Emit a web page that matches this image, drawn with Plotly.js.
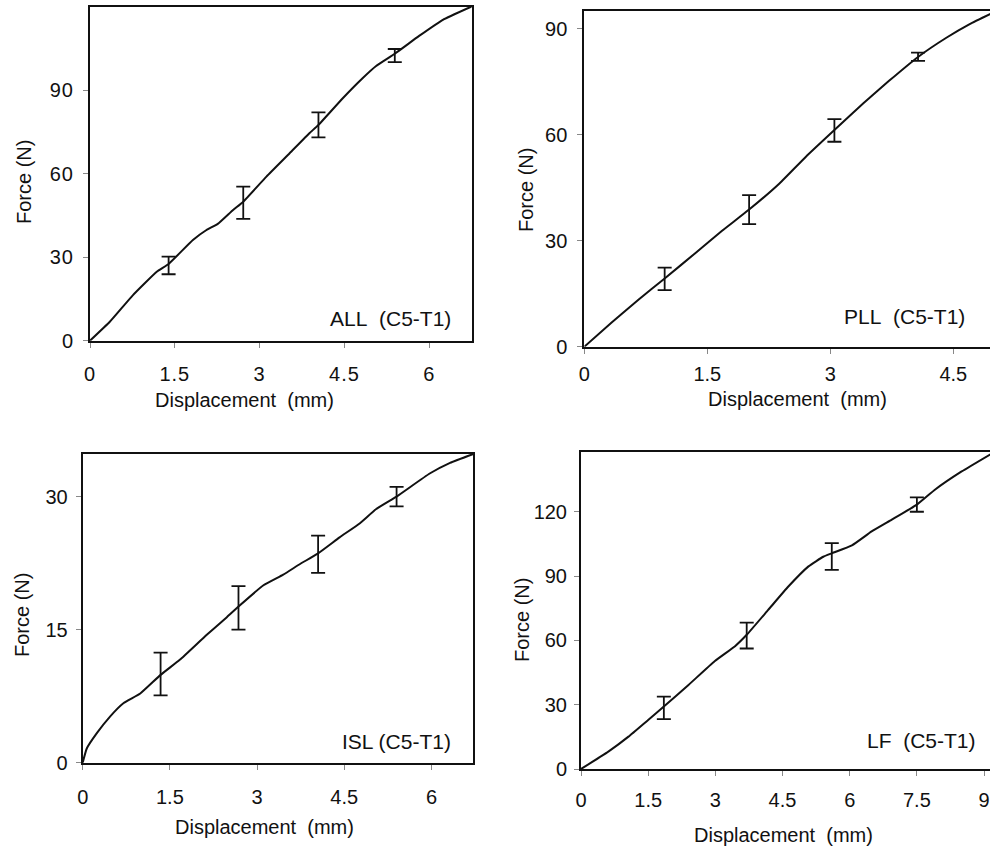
<!DOCTYPE html>
<html>
<head>
<meta charset="utf-8">
<script src="https://cdn.plot.ly/plotly-3.0.1.min.js"></script>
<style>
  html, body { margin: 0; padding: 0; overflow: hidden; background: #fff; }
  #chart { width: 1000px; height: 850px; }
  .xtick text, .ytick text { letter-spacing: 1px; }
</style>
</head>
<body>
<div id="chart"></div>
<script>
// ---- ALL (C5-T1) ----
const allX = [0, 0.35, 0.76, 1.18, 1.39, 1.82, 2.06, 2.26, 2.53, 2.71, 3.12, 3.53, 3.88, 4.04, 4.47, 4.82, 5.06, 5.39, 5.82, 6.24, 6.75];
const allY = [0, 6.8, 16.4, 24.8, 27.6, 36.2, 39.8, 42.0, 47.0, 50.0, 59.0, 67.4, 74.6, 77.6, 87.2, 94.4, 98.8, 103.2, 109.6, 115.4, 120.2];
const allErrX = [1.39, 2.71, 4.04, 5.39];
const allErrMid = [27.2, 50.0, 77.6, 102.8];
const allErrHigh = [30.2, 55.4, 82.1, 104.9];
const allErrLow = [23.9, 43.8, 73.1, 100.2];

// ---- PLL (C5-T1) ----
const pllX = [0, 0.33, 0.66, 0.98, 1.36, 1.68, 2.01, 2.38, 2.70, 3.05, 3.40, 3.72, 4.07, 4.42, 4.70, 5.00];
const pllY = [0, 6.8, 13.3, 19.3, 26.6, 32.8, 38.8, 46.2, 53.7, 61.3, 68.8, 75.3, 82.0, 87.5, 91.3, 94.7];
const pllErrX = [0.98, 2.01, 3.05, 4.07];
const pllErrMid = [19.3, 38.8, 61.3, 82.0];
const pllErrHigh = [22.4, 42.9, 64.4, 83.2];
const pllErrLow = [16.0, 34.7, 58.0, 80.9];

// ---- ISL (C5-T1) ----
const islX = [0, 0.07, 0.24, 0.47, 0.70, 0.99, 1.34, 1.67, 2.13, 2.48, 2.68, 3.11, 3.45, 3.74, 4.05, 4.42, 4.77, 5.05, 5.40, 5.97, 6.32, 6.72];
const islY = [0, 1.6, 3.3, 5.2, 6.7, 7.8, 9.9, 11.6, 14.4, 16.4, 17.6, 20.0, 21.2, 22.4, 23.6, 25.4, 27.0, 28.6, 30.0, 32.6, 33.8, 34.8];
const islErrX = [1.34, 2.68, 4.05, 5.40];
const islErrMid = [9.9, 17.6, 23.6, 30.0];
const islErrHigh = [12.4, 19.9, 25.6, 31.1];
const islErrLow = [7.6, 15.0, 21.4, 28.9];

// ---- LF (C5-T1) ----
const lfX = [0, 0.61, 1.06, 1.50, 1.85, 2.40, 2.99, 3.44, 3.70, 4.18, 4.63, 5.08, 5.41, 5.60, 6.05, 6.49, 6.94, 7.50, 7.91, 8.50, 9.20];
const lfY = [0, 8.1, 15.1, 22.9, 29.1, 39.2, 50.4, 57.3, 62.6, 74.2, 85.1, 94.5, 99.0, 100.6, 104.3, 110.8, 116.3, 123.3, 130.4, 138.8, 147.5];
const lfErrX = [1.85, 3.70, 5.60, 7.50];
const lfErrMid = [29.1, 62.6, 99.9, 123.3];
const lfErrHigh = [33.8, 68.3, 105.4, 126.7];
const lfErrLow = [23.3, 56.2, 92.9, 120.0];

// ---- ticks & labels ----
const allXTicks = [0, 1.5, 3, 4.5, 6];
const allXTickText = ["0", "1.5", "3", "4.5", "6"];
const allYTicks = [0, 30, 60, 90];
const allYTickText = ["0", "30", "60", "90"];
const pllXTicks = [0, 1.5, 3, 4.5];
const pllXTickText = ["0", "1.5", "3", "4.5"];
const pllYTicks = [0, 30, 60, 90];
const pllYTickText = ["0", "30", "60", "90"];
const islXTicks = [0, 1.5, 3, 4.5, 6];
const islXTickText = ["0", "1.5", "3", "4.5", "6"];
const islYTicks = [0, 15, 30];
const islYTickText = ["0", "15", "30"];
const lfXTicks = [0, 1.5, 3, 4.5, 6, 7.5, 9];
const lfXTickText = ["0", "1.5", "3", "4.5", "6", "7.5", "9"];
const lfYTicks = [0, 30, 60, 90, 120];
const lfYTickText = ["0", "30", "60", "90", "120"];

const panelLabels = ["ALL\u00a0 (C5-T1)", "PLL\u00a0 (C5-T1)", "ISL (C5-T1)", "LF\u00a0 (C5-T1)"];
const xTitle = "Displacement\u00a0 (mm)";
const yTitle = "Force (N)";

const W = 1000, H = 850;
const FONT = "'Liberation Sans', Arial, Helvetica, sans-serif";
const INK = "#111";

function px(x) { return x / W; }
function py(y) { return 1 - y / H; }

const panels = [
  { x: allX, y: allY, ex: allErrX, em: allErrMid, eh: allErrHigh, el: allErrLow,
    xt: allXTicks, xtt: allXTickText, yt: allYTicks, ytt: allYTickText,
    xr: [0, 6.75], yr: [0, 120], dom: [90, 471.7, 7, 340.7], xso: 9, yso: 5,
    label: { x: 453, y: 319 }, xtitle: { x: 244, y: 400 }, ytitle: { x: 24, y: 182 } },
  { x: pllX, y: pllY, ex: pllErrX, em: pllErrMid, eh: pllErrHigh, el: pllErrLow,
    xt: pllXTicks, xtt: pllXTickText, yt: pllYTicks, ytt: pllYTickText,
    xr: [0, 5.0], yr: [0, 95], dom: [584.3, 994.3, 11, 346.7], xso: 3, yso: 6,
    label: { x: 967, y: 316 }, xtitle: { x: 797, y: 399 }, ytitle: { x: 526, y: 190 } },
  { x: islX, y: islY, ex: islErrX, em: islErrMid, eh: islErrHigh, el: islErrLow,
    xt: islXTicks, xtt: islXTickText, yt: islYTicks, ytt: islYTickText,
    xr: [0, 6.72], yr: [0, 34.8], dom: [82.7, 473.3, 454, 762.7], xso: 10, yso: 4,
    label: { x: 453, y: 741 }, xtitle: { x: 264, y: 827 }, ytitle: { x: 22, y: 615 } },
  { x: lfX, y: lfY, ex: lfErrX, em: lfErrMid, eh: lfErrHigh, el: lfErrLow,
    xt: lfXTicks, xtt: lfXTickText, yt: lfYTicks, ytt: lfYTickText,
    xr: [0, 9.2], yr: [0, 148], dom: [581, 993, 451.7, 769], xso: 7, yso: 3,
    label: { x: 978, y: 740 }, xtitle: { x: 783, y: 835 }, ytitle: { x: 522, y: 620 } }
];

const traces = [];
const layout = {
  width: W, height: H,
  margin: { l: 0, r: 0, t: 0, b: 0 },
  paper_bgcolor: "#fff", plot_bgcolor: "#fff",
  showlegend: false,
  font: { family: FONT, color: INK, size: 20 },
  annotations: []
};

panels.forEach((p, i) => {
  const n = i + 1;
  const xa = n === 1 ? "x" : "x" + n;
  const ya = n === 1 ? "y" : "y" + n;
  traces.push({
    type: "scatter", mode: "lines", x: p.x, y: p.y, xaxis: xa, yaxis: ya,
    line: { color: INK, width: 2, shape: "spline", smoothing: 0.4 },
    hoverinfo: "skip"
  });
  traces.push({
    type: "scatter", mode: "markers", x: p.ex, y: p.em, xaxis: xa, yaxis: ya,
    marker: { size: 1, opacity: 0 },
    error_y: {
      type: "data", symmetric: false,
      array: p.eh.map((v, k) => v - p.em[k]),
      arrayminus: p.em.map((v, k) => v - p.el[k]),
      color: INK, thickness: 1.8, width: 7
    },
    hoverinfo: "skip"
  });
  const common = {
    showgrid: false, zeroline: false,
    showline: true, mirror: true, linecolor: INK, linewidth: 2,
    ticks: "outside", ticklen: 5, tickwidth: 1, tickcolor: "#888",
    tickfont: { family: FONT, size: 20, color: INK },
    tickmode: "array", fixedrange: true
  };
  layout["xaxis" + (n === 1 ? "" : n)] = Object.assign({}, common, {
    domain: [px(p.dom[0]), px(p.dom[1])],
    range: p.xr, tickvals: p.xt, ticktext: p.xtt,
    anchor: ya, ticklabelstandoff: p.xso
  });
  layout["yaxis" + (n === 1 ? "" : n)] = Object.assign({}, common, {
    domain: [py(p.dom[3]), py(p.dom[2])],
    range: p.yr, tickvals: p.yt, ticktext: p.ytt,
    anchor: xa, ticklabelstandoff: p.yso
  });
  layout.annotations.push({
    xref: "paper", yref: "paper", x: px(p.label.x), y: py(p.label.y),
    xanchor: "right", yanchor: "middle", showarrow: false,
    text: panelLabels[i], font: { family: FONT, size: 21, color: INK }
  });
  layout.annotations.push({
    xref: "paper", yref: "paper", x: px(p.xtitle.x), y: py(p.xtitle.y),
    xanchor: "center", yanchor: "middle", showarrow: false,
    text: xTitle, font: { family: FONT, size: 20, color: INK }
  });
  layout.annotations.push({
    xref: "paper", yref: "paper", x: px(p.ytitle.x), y: py(p.ytitle.y),
    xanchor: "center", yanchor: "middle", showarrow: false, textangle: -90,
    text: yTitle, font: { family: FONT, size: 20, color: INK }
  });
});

Plotly.newPlot("chart", traces, layout, { displayModeBar: false, staticPlot: true });
</script>
</body>
</html>
